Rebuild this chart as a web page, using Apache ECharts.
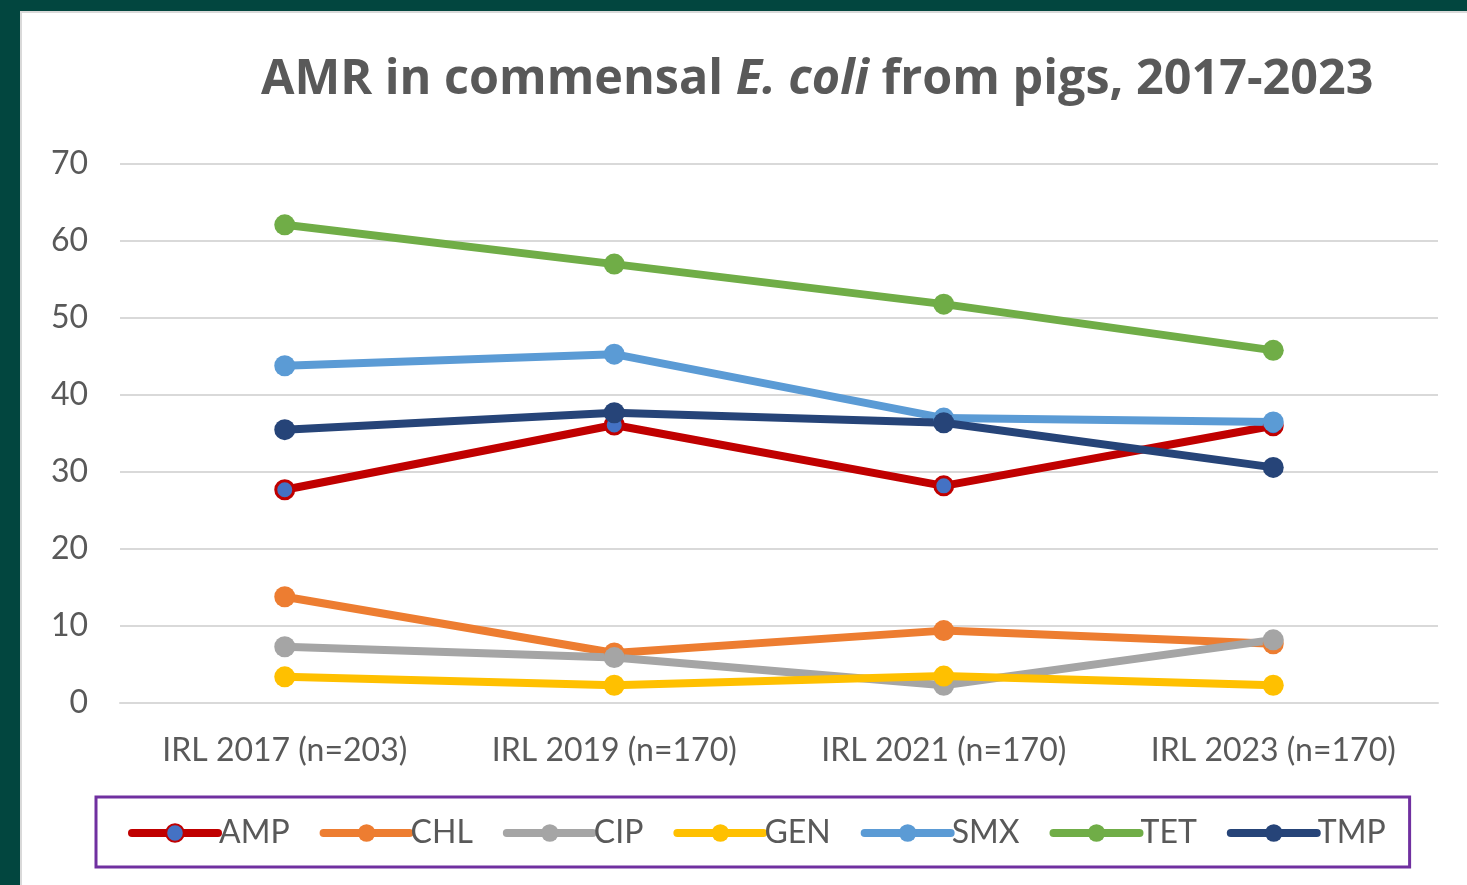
<!DOCTYPE html>
<html>
<head>
<meta charset="utf-8">
<script src="https://cdn.jsdelivr.net/npm/echarts@6/dist/echarts.min.js"></script>
<style>
  html, body { margin: 0; padding: 0; background: #02463f; width: 1467px; height: 885px; overflow: hidden; }
  #chart { position: absolute; left: 20px; top: 11px; width: 1447px; height: 874px; background: #fff; box-shadow: inset 2px 2px 0 #d9d9d9; }
</style>
</head>
<body>
<div id="chart"></div>
<script>
// survey rounds
var categories = ['IRL 2017 (n=203)', 'IRL 2019 (n=170)', 'IRL 2021 (n=170)', 'IRL 2023 (n=170)'];

// % resistant
var amp = [27.7, 36.1, 28.2, 36.0];
var chl = [13.8, 6.5, 9.4, 7.7];
var cip = [7.3, 5.9, 2.3, 8.2];
var gen = [3.4, 2.3, 3.5, 2.3];
var smx = [43.8, 45.3, 37.0, 36.5];
var tet = [62.1, 57.0, 51.8, 45.8];
var tmp = [35.5, 37.7, 36.4, 30.6];

var names = ['AMP', 'CHL', 'CIP', 'GEN', 'SMX', 'TET', 'TMP'];
var values = [amp, chl, cip, gen, smx, tet, tmp];
var colors = ['#c00000', '#ed7d31', '#a5a5a5', '#ffc000', '#5b9bd5', '#70ad47', '#264478'];

var labelFont = 'Lato, "Open Sans", sans-serif';

var series = names.map(function (n, i) {
  var s = {
    name: n,
    type: 'line',
    data: values[i],
    symbol: 'circle',
    symbolSize: 21,
    lineStyle: { width: 8, color: colors[i], cap: 'round' },
    itemStyle: { color: colors[i] }
  };
  if (n === 'AMP') {
    s.symbolSize = 18;
    s.itemStyle = { color: '#4472c4', borderColor: '#c00000', borderWidth: 3 };
  }
  return s;
});

var chart = echarts.init(document.getElementById('chart'));
chart.setOption({
  animation: false,
  color: colors,
  title: {
    left: 236,
    top: 40,
    text: '{a|AMR in commensal }{b|E. coli}{a| from pigs, 2017-2023}',
    textStyle: {
      rich: {
        a: { fontFamily: '"Open Sans", sans-serif', fontWeight: 'bold', fontSize: 48.5, color: '#595959' },
        b: { fontFamily: '"Open Sans", sans-serif', fontWeight: 'bold', fontStyle: 'italic', fontSize: 48.5, color: '#595959' }
      }
    }
  },
  grid: { left: 100, right: 29, top: 153, bottom: 182 },
  xAxis: {
    type: 'category',
    data: categories,
    boundaryGap: true,
    axisLine: { lineStyle: { color: '#d9d9d9', width: 2 } },
    axisTick: { show: false },
    axisLabel: { margin: 32, fontSize: 32, color: '#595959', fontFamily: labelFont }
  },
  yAxis: {
    type: 'value',
    min: 0,
    max: 70,
    interval: 10,
    axisLine: { show: false },
    axisTick: { show: false },
    splitLine: { lineStyle: { color: '#d9d9d9', width: 2 } },
    axisLabel: { margin: 32, fontSize: 32, color: '#595959', fontFamily: labelFont }
  },
  legend: {
    left: 76,
    top: 786,
    padding: [20, 24, 18, 32],
    borderColor: '#7030a0',
    borderWidth: 3,
    itemWidth: 86,
    itemHeight: 22,
    itemGap: 30,
    lineStyle: { width: 8, cap: 'round' },
    textStyle: { fontSize: 32, color: '#595959', fontFamily: labelFont, padding: [0, 0, 0, -4] },
    data: names
  },
  series: series
});
</script>
</body>
</html>
